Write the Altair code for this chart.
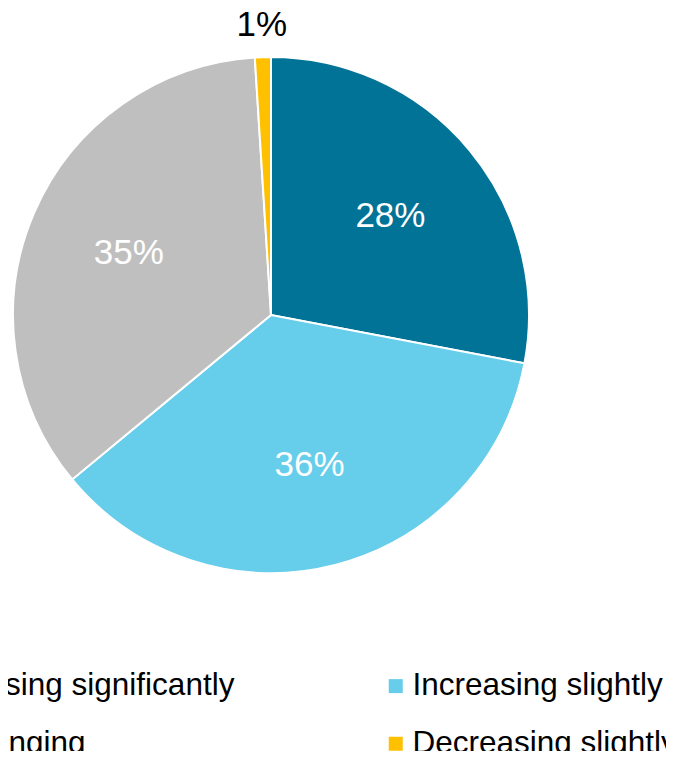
import altair as alt
import pandas as pd

categories = ["Increasing significantly", "Increasing slightly", "Unchanging", "Decreasing slightly"]
values = [28, 36, 35, 1]
labels = ["28%", "36%", "35%", "1%"]
order = [0, 1, 2, 3]
colors = ["#007397", "#66CDEA", "#BFBFBF", "#FFC000"]

df = pd.DataFrame({"category": categories, "value": values, "label": labels, "order": order})

FONT = "Liberation Sans"

legend = alt.Legend(
    title=None,
    orient="none",
    legendX=-123,
    legendY=662,
    columns=2,
    direction="horizontal",
    columnPadding=145,
    rowPadding=25,
    padding=0,
    symbolType="square",
    symbolSize=196,
    symbolStrokeWidth=0,
    labelFont=FONT,
    labelFontSize=31.5,
    labelColor="black",
    labelOffset=1,
    labelLimit=0,
)

base = alt.Chart(df)

arcs = base.mark_arc(outerRadius=258, stroke="white", strokeWidth=2).encode(
    theta=alt.Theta("value:Q", stack=True),
    order=alt.Order("order:Q"),
    color=alt.Color("category:N", scale=alt.Scale(domain=categories, range=colors), sort=categories, legend=legend),
)

lab = base.transform_window(
    cum="sum(value)", sort=[alt.SortField("order")], frame=[None, 0]
).transform_calculate(mid="datum.cum - datum.value / 2")

inner = lab.transform_filter("datum.value > 5").mark_text(
    radius=155, fontSize=35, font=FONT, fill="white"
).encode(theta=alt.Theta("mid:Q", stack=None), text="label:N")

outer = lab.transform_filter("datum.value <= 5").mark_text(
    radius=290, fontSize=35, font=FONT, fill="black"
).encode(theta=alt.Theta("mid:Q", stack=None), text="label:N")

chart = alt.layer(arcs, inner, outer).properties(
    width=526,
    height=614,
    autosize=alt.AutoSizeParams(type="none"),
    padding={"left": 0, "top": 0, "right": 132, "bottom": 129},
).configure_view(stroke=None)

chart.save("out.html", embed_options={"renderer": "svg", "actions": False})
